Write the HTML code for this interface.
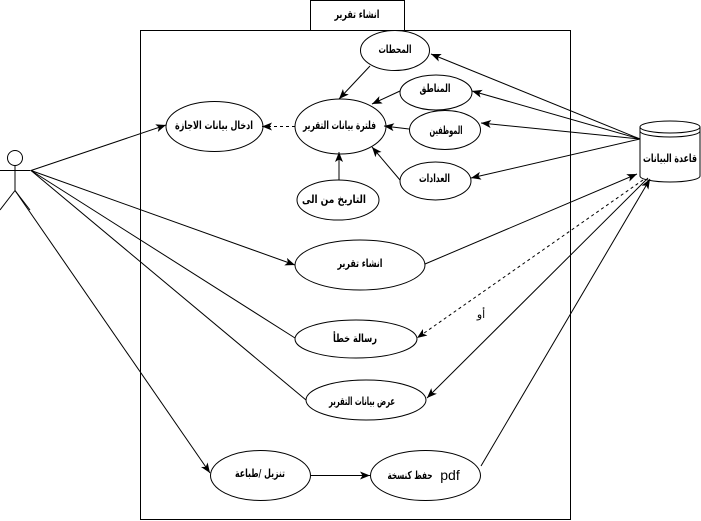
<!DOCTYPE html>
<html>
<head>
<meta charset="utf-8">
<style>
html,body{margin:0;padding:0;background:#fff;}
svg{display:block;}
text{font-family:"DejaVu Sans","Liberation Sans",sans-serif;font-size:11px;fill:#000;font-weight:bold;}
</style>
</head>
<body>
<svg width="701" height="521" viewBox="0 0 701 521" xmlns="http://www.w3.org/2000/svg">
<defs>
<marker id="a" markerUnits="userSpaceOnUse" markerWidth="12" markerHeight="10" refX="10" refY="4" orient="auto">
<path d="M0,0 L10,4 L0,8 L2.5,4 Z" fill="#000"/>
</marker>
</defs>
<g fill="none" stroke="#000" stroke-width="1">
<!-- frames -->
<rect x="310.5" y="0.5" width="94" height="30"/>
<rect x="140.5" y="30.5" width="430" height="489"/>
<!-- actor -->
<circle cx="15" cy="158" r="7.5"/>
<line x1="15" y1="165.5" x2="15" y2="190.5"/>
<line x1="0" y1="170.5" x2="30.5" y2="170.5"/>
<line x1="15" y1="190.5" x2="0" y2="210"/>
<line x1="15" y1="190.5" x2="30" y2="210"/>
<!-- ellipses -->
<ellipse cx="395" cy="50.5" rx="34.5" ry="20"/>
<ellipse cx="436" cy="92.5" rx="36" ry="17.5"/>
<ellipse cx="445" cy="130" rx="35.5" ry="19.5"/>
<ellipse cx="435.5" cy="181" rx="35.5" ry="19"/>
<ellipse cx="340.5" cy="126.5" rx="45.5" ry="27.5"/>
<ellipse cx="214.5" cy="126.5" rx="48.5" ry="25"/>
<ellipse cx="338" cy="200" rx="41" ry="20"/>
<ellipse cx="360" cy="265" rx="65" ry="25"/>
<ellipse cx="356" cy="339" rx="61" ry="19"/>
<ellipse cx="366" cy="400" rx="60" ry="20"/>
<ellipse cx="260.5" cy="475.5" rx="50" ry="25"/>
<ellipse cx="425.5" cy="475.5" rx="55" ry="25"/>
<!-- database -->
<path d="M640,127 A30,6 0 0 1 700,127 L700,176 A30,6 0 0 1 640,176 Z" fill="#fff"/>
<path d="M640,127 A30,6 0 0 0 700,127"/>
<path d="M640,131 A30,6 0 0 0 700,131"/>
<!-- DB to top ellipses -->
<line x1="640" y1="139" x2="431" y2="54" marker-end="url(#a)"/>
<line x1="640" y1="139" x2="472" y2="91" marker-end="url(#a)"/>
<line x1="640" y1="139" x2="481" y2="123" marker-end="url(#a)"/>
<line x1="640" y1="139" x2="471" y2="178" marker-end="url(#a)"/>
<!-- into filter -->
<line x1="370" y1="66" x2="339" y2="99" marker-end="url(#a)"/>
<line x1="400" y1="91" x2="372" y2="104" marker-end="url(#a)"/>
<line x1="409" y1="129" x2="384" y2="126" marker-end="url(#a)"/>
<line x1="400" y1="180" x2="372" y2="147" marker-end="url(#a)"/>
<line x1="339" y1="180" x2="339" y2="152" marker-end="url(#a)"/>
<line x1="295" y1="126.5" x2="262" y2="126.5" stroke-dasharray="3,3" marker-end="url(#a)"/>
<!-- actor lines -->
<line x1="31" y1="170.5" x2="166" y2="125" marker-end="url(#a)"/>
<line x1="31" y1="170.5" x2="295" y2="265" marker-end="url(#a)"/>
<line x1="31" y1="170.5" x2="295" y2="338"/>
<line x1="31" y1="170.5" x2="306" y2="400"/>
<line x1="15" y1="190.5" x2="210" y2="473" marker-end="url(#a)"/>
<!-- bottom -->
<line x1="311" y1="475.5" x2="370" y2="475.5" marker-end="url(#a)"/>
<line x1="481" y1="466" x2="650" y2="179" marker-end="url(#a)"/>
<line x1="425" y1="264" x2="637" y2="174" marker-end="url(#a)"/>
<line x1="643" y1="180" x2="417" y2="338" stroke-dasharray="3,3" marker-end="url(#a)"/>
<line x1="648" y1="178" x2="427" y2="398" marker-end="url(#a)"/>
</g>
<g text-anchor="middle">
<text x="357" y="18" textLength="45" lengthAdjust="spacingAndGlyphs">انشاء تقرير</text>
<text x="395" y="53" textLength="33" lengthAdjust="spacingAndGlyphs">المحطات</text>
<text x="435" y="92" textLength="31" lengthAdjust="spacingAndGlyphs">المناطق</text>
<text x="446" y="134" textLength="33" lengthAdjust="spacingAndGlyphs">الموظفين</text>
<text x="434.5" y="182" textLength="31" lengthAdjust="spacingAndGlyphs">العدادات</text>
<text x="339.5" y="129" textLength="73" lengthAdjust="spacingAndGlyphs">فلترة بيانات التقرير</text>
<text x="214" y="129" textLength="78" lengthAdjust="spacingAndGlyphs">ادخال بيانات الاجازة</text>
<text x="334" y="203" textLength="64" lengthAdjust="spacingAndGlyphs">التاريخ من الى</text>
<text x="360" y="267" textLength="45" lengthAdjust="spacingAndGlyphs">انشاء تقرير</text>
<text x="355" y="342" textLength="44" lengthAdjust="spacingAndGlyphs">رسالة خطأ</text>
<text x="362" y="405" textLength="66" lengthAdjust="spacingAndGlyphs">عرض بيانات التقرير</text>
<text x="260" y="477" textLength="50" lengthAdjust="spacingAndGlyphs">تنزيل /طباعة</text>
<text x="410" y="479" textLength="45" lengthAdjust="spacingAndGlyphs">حفظ كنسخة</text>
<text x="450" y="480" style="font-family:'Liberation Sans',sans-serif;font-size:14px;font-weight:normal;">pdf</text>
<text x="670" y="162" textLength="54" lengthAdjust="spacingAndGlyphs">قاعدة البيانات</text>
<text x="481" y="318" style="font-weight:normal;">أو</text>
</g>
</svg>
</body>
</html>
